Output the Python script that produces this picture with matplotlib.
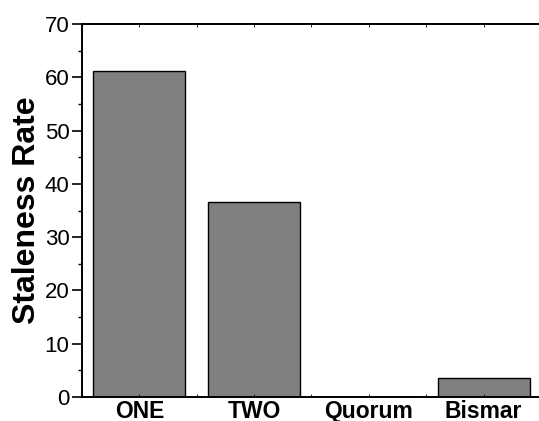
import matplotlib
matplotlib.use("Agg")
import matplotlib.pyplot as plt
from matplotlib.ticker import MultipleLocator

plt.rcParams['font.family'] = ['Liberation Sans', 'DejaVu Sans']

categories = ['ONE', 'TWO', 'Quorum', 'Bismar']
staleness = [61.2, 36.6, 0.0, 3.5]

fig = plt.figure(figsize=(5.39, 4.21), dpi=100)
ax = fig.add_axes([82 / 539, 24 / 421, 459 / 539, 373 / 421])

x = range(len(categories))
ax.bar(x, staleness, width=0.8, color='#808080', edgecolor='black', linewidth=1.0)

ax.set_xlim(-0.5, 3.5)
ax.set_ylim(0, 70)
ax.set_xticks(list(x))
ax.set_xticklabels(categories, fontsize=16.5, fontweight='bold')
ax.xaxis.set_minor_locator(MultipleLocator(0.5))
ax.yaxis.set_major_locator(MultipleLocator(10))
ax.yaxis.set_minor_locator(MultipleLocator(5))
ax.set_ylabel('Staleness Rate', fontsize=23, fontweight='bold', labelpad=2)

ax.tick_params(axis='y', which='major', direction='out', length=7, width=1.2,
               labelsize=16, right=True, pad=2)
ax.tick_params(axis='y', which='minor', direction='out', length=3, width=1.0, right=True)
ax.tick_params(axis='x', which='both', direction='in', length=2, width=0.6,
               top=True, pad=2)

for s in ax.spines.values():
    s.set_linewidth(1.4)

fig.savefig('out.png', dpi=100)
